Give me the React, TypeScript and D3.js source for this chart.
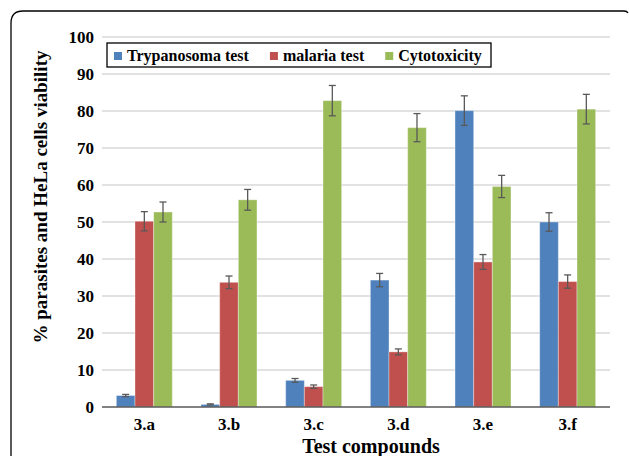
import React, { useEffect, useRef } from "react";
import * as d3 from "d3";

const categories = ["3.a", "3.b", "3.c", "3.d", "3.e", "3.f"];
const seriesNames = ["Trypanosoma test", "malaria test", "Cytotoxicity"];
const trypanosoma = [3.1, 0.7, 7.2, 34.3, 80.1, 50.0];
const trypanosomaErr = [0.3, 0.15, 0.5, 1.8, 4.0, 2.5];
const malaria = [50.2, 33.7, 5.5, 14.9, 39.2, 33.9];
const malariaErr = [2.6, 1.7, 0.45, 0.8, 2.0, 1.8];
const cytotoxicity = [52.7, 56.0, 82.8, 75.5, 59.6, 80.5];
const cytotoxicityErr = [2.7, 2.8, 4.1, 3.8, 3.0, 4.0];
const yTicks = [0, 10, 20, 30, 40, 50, 60, 70, 80, 90, 100];
const colors = ["#4F81BD", "#C0504D", "#9BBB59"];

const App = () => {
    const ref = useRef(null);

    useEffect(() => {
        document.body.style.margin = "0";
        const width = 629;
        const height = 456;
        const font = "'Liberation Serif', 'Times New Roman', serif";

        const svg = d3.select(ref.current);
        svg.selectAll("*").remove();
        svg.attr("width", width).attr("height", height);

        // frame (open on the right and bottom)
        svg.append("path")
            .attr("d", "M11,460 L11,23 Q11,11 23,11 L624,11 Q627,11 628,13")
            .attr("fill", "none")
            .attr("stroke", "#000")
            .attr("stroke-width", 1.3);

        // Scaling
        const x0 = d3
            .scaleBand()
            .domain(categories)
            .range([102, 610])
            .paddingInner(0.339)
            .paddingOuter(0.1695);
        const x1 = d3
            .scaleBand()
            .domain(seriesNames)
            .range([0, x0.bandwidth()]);
        const y = d3.scaleLinear().domain([0, 100]).range([407, 37]);

        // gridlines
        svg.append("g")
            .selectAll("line")
            .data(yTicks.filter((t) => t > 0))
            .join("line")
            .attr("x1", 102)
            .attr("x2", 610)
            .attr("y1", (d) => y(d))
            .attr("y2", (d) => y(d))
            .attr("stroke", "#d9d9d9")
            .attr("stroke-width", 1.5);

        // y tick labels
        svg.append("g")
            .selectAll("text")
            .data(yTicks)
            .join("text")
            .attr("x", 94)
            .attr("y", (d) => y(d))
            .attr("dy", "0.35em")
            .attr("text-anchor", "end")
            .attr("font-family", font)
            .attr("font-weight", "bold")
            .attr("font-size", "17px")
            .text((d) => d);

        const series = [
            { name: seriesNames[0], values: trypanosoma, errs: trypanosomaErr },
            { name: seriesNames[1], values: malaria, errs: malariaErr },
            { name: seriesNames[2], values: cytotoxicity, errs: cytotoxicityErr },
        ];

        // bars
        series.forEach((s, si) => {
            const g = svg.append("g");
            g.selectAll("rect")
                .data(s.values)
                .join("rect")
                .attr("x", (d, i) => x0(categories[i]) + x1(s.name))
                .attr("y", (d) => y(d))
                .attr("width", x1.bandwidth())
                .attr("height", (d) => y(0) - y(d))
                .attr("fill", colors[si])
                .attr("stroke", "rgba(255,255,255,0.35)")
                .attr("stroke-width", 1);
        });

        // x axis line
        svg.append("line")
            .attr("x1", 102)
            .attr("x2", 610)
            .attr("y1", y(0))
            .attr("y2", y(0))
            .attr("stroke", "#595959")
            .attr("stroke-width", 1.5);

        // error bars
        series.forEach((s) => {
            const g = svg.append("g").attr("stroke", "#595959").attr("stroke-width", 1.3);
            s.values.forEach((v, i) => {
                const cx = x0(categories[i]) + x1(s.name) + x1.bandwidth() / 2;
                const top = y(v + s.errs[i]);
                const bot = y(v - s.errs[i]);
                g.append("line").attr("x1", cx).attr("x2", cx).attr("y1", top).attr("y2", bot);
                g.append("line").attr("x1", cx - 3.5).attr("x2", cx + 3.5).attr("y1", top).attr("y2", top);
                g.append("line").attr("x1", cx - 3.5).attr("x2", cx + 3.5).attr("y1", bot).attr("y2", bot);
            });
        });

        // category labels
        svg.append("g")
            .selectAll("text")
            .data(categories)
            .join("text")
            .attr("x", (d) => x0(d) + x0.bandwidth() / 2)
            .attr("y", 430)
            .attr("text-anchor", "middle")
            .attr("font-family", font)
            .attr("font-weight", "bold")
            .attr("font-size", "17px")
            .text((d) => d);

        // axis titles
        svg.append("text")
            .attr("x", 371)
            .attr("y", 453)
            .attr("text-anchor", "middle")
            .attr("font-family", font)
            .attr("font-weight", "bold")
            .attr("font-size", "20px")
            .text("Test compounds");

        svg.append("text")
            .attr("transform", "translate(47,197) rotate(-90)")
            .attr("text-anchor", "middle")
            .attr("font-family", font)
            .attr("font-weight", "bold")
            .attr("font-size", "19px")
            .text("% parasites and HeLa cells viability");

        // legend
        const legend = svg.append("g");
        legend.append("rect")
            .attr("x", 107)
            .attr("y", 43)
            .attr("width", 384)
            .attr("height", 24)
            .attr("fill", "#fff")
            .attr("stroke", "#000")
            .attr("stroke-width", 1.3);
        let lx = 114;
        seriesNames.forEach((name, i) => {
            legend.append("rect")
                .attr("x", lx)
                .attr("y", 52)
                .attr("width", 8)
                .attr("height", 8)
                .attr("fill", colors[i]);
            const t = legend.append("text")
                .attr("x", lx + 13)
                .attr("y", 61)
                .attr("font-family", font)
                .attr("font-weight", "bold")
                .attr("font-size", "16px")
                .text(name);
            const w = t.node().getComputedTextLength();
            lx = lx + 13 + w + 21;
        });
    }, []);

    return <svg ref={ref}></svg>;
};

export default App;
